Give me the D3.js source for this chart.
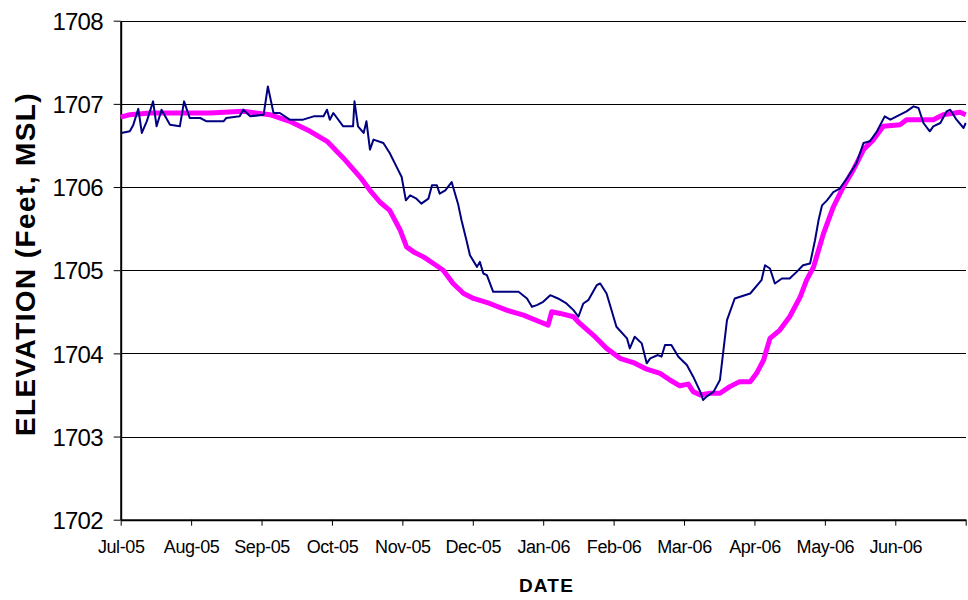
<!DOCTYPE html>
<html><head><meta charset="utf-8">
<script src="https://cdn.jsdelivr.net/npm/d3@7"></script>
<style>body{margin:0;background:#fff}svg{display:block}</style>
</head><body>
<svg id="c" width="968" height="600"></svg>
<script>
// Month tick labels (one per month start, months 0..11 from Jul-05)
const monthLabels = ["Jul-05","Aug-05","Sep-05","Oct-05","Nov-05","Dec-05","Jan-06","Feb-06","Mar-06","Apr-06","May-06","Jun-06"];
const yTicks = [1702,1703,1704,1705,1706,1707,1708];

// Observed elevation (navy): time in months since 1 Jul 2005, elevation in feet MSL
const observedT = [0.01,0.13,0.18,0.25,0.30,0.37,0.46,0.51,0.58,0.70,0.84,0.90,0.98,1.13,1.22,1.46,1.50,1.69,1.74,1.84,2.03,2.09,2.17,2.26,2.40,2.59,2.74,2.88,2.93,2.97,3.02,3.16,3.30,3.32,3.37,3.45,3.49,3.54,3.59,3.73,3.82,3.92,3.99,4.05,4.11,4.20,4.27,4.37,4.42,4.49,4.53,4.61,4.70,4.79,4.84,4.91,4.96,5.06,5.10,5.15,5.20,5.29,5.65,5.77,5.84,5.91,6.00,6.10,6.21,6.33,6.43,6.50,6.57,6.64,6.76,6.81,6.90,7.04,7.19,7.23,7.30,7.40,7.47,7.52,7.63,7.68,7.73,7.82,7.92,8.04,8.13,8.23,8.27,8.32,8.42,8.51,8.61,8.72,8.94,9.10,9.15,9.22,9.29,9.39,9.50,9.60,9.69,9.79,9.86,9.91,9.96,10.03,10.12,10.21,10.31,10.45,10.55,10.64,10.74,10.85,10.93,11.02,11.16,11.26,11.33,11.40,11.49,11.54,11.64,11.73,11.78,11.87,11.97,12.00];
const observedV = [1706.65,1706.67,1706.75,1706.94,1706.65,1706.79,1707.03,1706.73,1706.93,1706.75,1706.73,1707.03,1706.83,1706.83,1706.79,1706.79,1706.83,1706.85,1706.93,1706.85,1706.87,1707.21,1706.89,1706.89,1706.81,1706.81,1706.85,1706.85,1706.93,1706.81,1706.89,1706.73,1706.73,1707.03,1706.73,1706.65,1706.79,1706.45,1706.57,1706.53,1706.41,1706.24,1706.12,1705.84,1705.90,1705.86,1705.80,1705.86,1706.02,1706.02,1705.92,1705.96,1706.06,1705.80,1705.60,1705.36,1705.18,1705.04,1705.10,1704.96,1704.94,1704.74,1704.74,1704.66,1704.56,1704.58,1704.62,1704.70,1704.66,1704.60,1704.52,1704.44,1704.60,1704.64,1704.82,1704.84,1704.72,1704.32,1704.18,1704.06,1704.20,1704.12,1703.88,1703.94,1703.98,1703.96,1704.10,1704.10,1703.96,1703.86,1703.72,1703.54,1703.44,1703.48,1703.54,1703.68,1704.40,1704.66,1704.72,1704.88,1705.06,1705.02,1704.84,1704.90,1704.90,1704.98,1705.06,1705.08,1705.36,1705.60,1705.78,1705.84,1705.94,1705.98,1706.10,1706.29,1706.53,1706.55,1706.67,1706.85,1706.81,1706.85,1706.91,1706.97,1706.95,1706.77,1706.67,1706.73,1706.77,1706.91,1706.93,1706.81,1706.71,1706.77];

// Target / rule curve elevation (magenta)
const targetT = [0.00,0.13,0.42,1.27,1.74,2.12,2.40,2.69,2.93,3.16,3.40,3.54,3.68,3.82,3.97,4.06,4.16,4.30,4.44,4.58,4.72,4.87,5.01,5.24,5.48,5.72,5.95,6.07,6.12,6.24,6.43,6.52,6.71,6.90,7.09,7.28,7.47,7.66,7.80,7.94,8.06,8.13,8.23,8.37,8.51,8.65,8.79,8.94,9.03,9.13,9.22,9.36,9.50,9.65,9.74,9.84,9.98,10.12,10.26,10.40,10.55,10.69,10.83,11.07,11.16,11.54,11.68,11.92,12.00];
const targetV = [1706.84,1706.87,1706.89,1706.89,1706.91,1706.87,1706.79,1706.67,1706.55,1706.35,1706.12,1705.96,1705.82,1705.72,1705.48,1705.28,1705.22,1705.16,1705.08,1705.00,1704.84,1704.72,1704.66,1704.60,1704.52,1704.46,1704.38,1704.34,1704.50,1704.48,1704.44,1704.36,1704.22,1704.06,1703.94,1703.89,1703.81,1703.76,1703.68,1703.61,1703.63,1703.54,1703.50,1703.52,1703.52,1703.60,1703.66,1703.66,1703.76,1703.92,1704.18,1704.28,1704.44,1704.68,1704.88,1705.04,1705.44,1705.76,1706.00,1706.20,1706.45,1706.57,1706.73,1706.75,1706.81,1706.81,1706.87,1706.90,1706.87];

const svg = d3.select("#c");
const x = d3.scaleLinear().domain([0, 12]).range([120.7, 965.7]);
const y = d3.scaleLinear().domain([1702, 1708]).range([519.7, 20.7]);

// gridlines
svg.append("g").attr("transform", `translate(${x(0)},0)`)
  .call(d3.axisLeft(y).tickValues(yTicks).tickSize(-(x(12) - x(0))).tickFormat(""))
  .call(g => g.select(".domain").remove())
  .call(g => g.selectAll("line").attr("stroke", "#000").attr("stroke-width", 1).attr("shape-rendering", "crispEdges"));

// y axis
const yAx = svg.append("g").attr("transform", `translate(${x(0)},0)`)
  .call(d3.axisLeft(y).tickValues(yTicks).tickSize(7).tickSizeOuter(0).tickFormat(d3.format("d")).tickPadding(11));
yAx.select(".domain").attr("stroke", "#000").attr("stroke-width", 2);
yAx.selectAll("line").attr("stroke", "#000").attr("stroke-width", 1);
yAx.selectAll("text").attr("font-family", "Liberation Sans, Arial, sans-serif")
  .attr("font-size", 24).attr("letter-spacing", "-0.8px").attr("fill", "#000").attr("dy", "0.36em");

// x axis
const xAx = svg.append("g").attr("transform", `translate(0,${y(1702)})`)
  .call(d3.axisBottom(x).tickValues(d3.range(0, 13)).tickSize(6).tickSizeOuter(0)
    .tickFormat(i => monthLabels[i] || "").tickPadding(17));
xAx.select(".domain").attr("stroke", "#000").attr("stroke-width", 2);
xAx.selectAll("line").attr("stroke", "#000").attr("stroke-width", 1);
xAx.selectAll("text").attr("font-family", "Liberation Sans, Arial, sans-serif")
  .attr("font-size", 18).attr("letter-spacing", "-0.4px").attr("fill", "#000").attr("dy", "0.6em");

// series
const line = d3.line().x(d => x(d[0])).y(d => y(d[1]));
svg.append("path").datum(d3.zip(targetT, targetV))
  .attr("d", line).attr("fill", "none").attr("stroke", "#FF00FF").attr("stroke-width", 5)
  .attr("stroke-linejoin", "round");
svg.append("path").datum(d3.zip(observedT, observedV))
  .attr("d", line).attr("fill", "none").attr("stroke", "#000080").attr("stroke-width", 2)
  .attr("stroke-linejoin", "round");

// axis titles
svg.append("text").attr("transform", "translate(35,264) rotate(-90)")
  .attr("text-anchor", "middle").attr("font-family", "Liberation Sans, Arial, sans-serif")
  .attr("font-weight", "bold").attr("font-size", 28).attr("letter-spacing", "1.4px")
  .text("ELEVATION (Feet, MSL)");
svg.append("text").attr("x", 546.5).attr("y", 591.5)
  .attr("text-anchor", "middle").attr("font-family", "Liberation Sans, Arial, sans-serif")
  .attr("font-weight", "bold").attr("font-size", 19).attr("letter-spacing", "1.2px")
  .text("DATE");
</script>
</body></html>
